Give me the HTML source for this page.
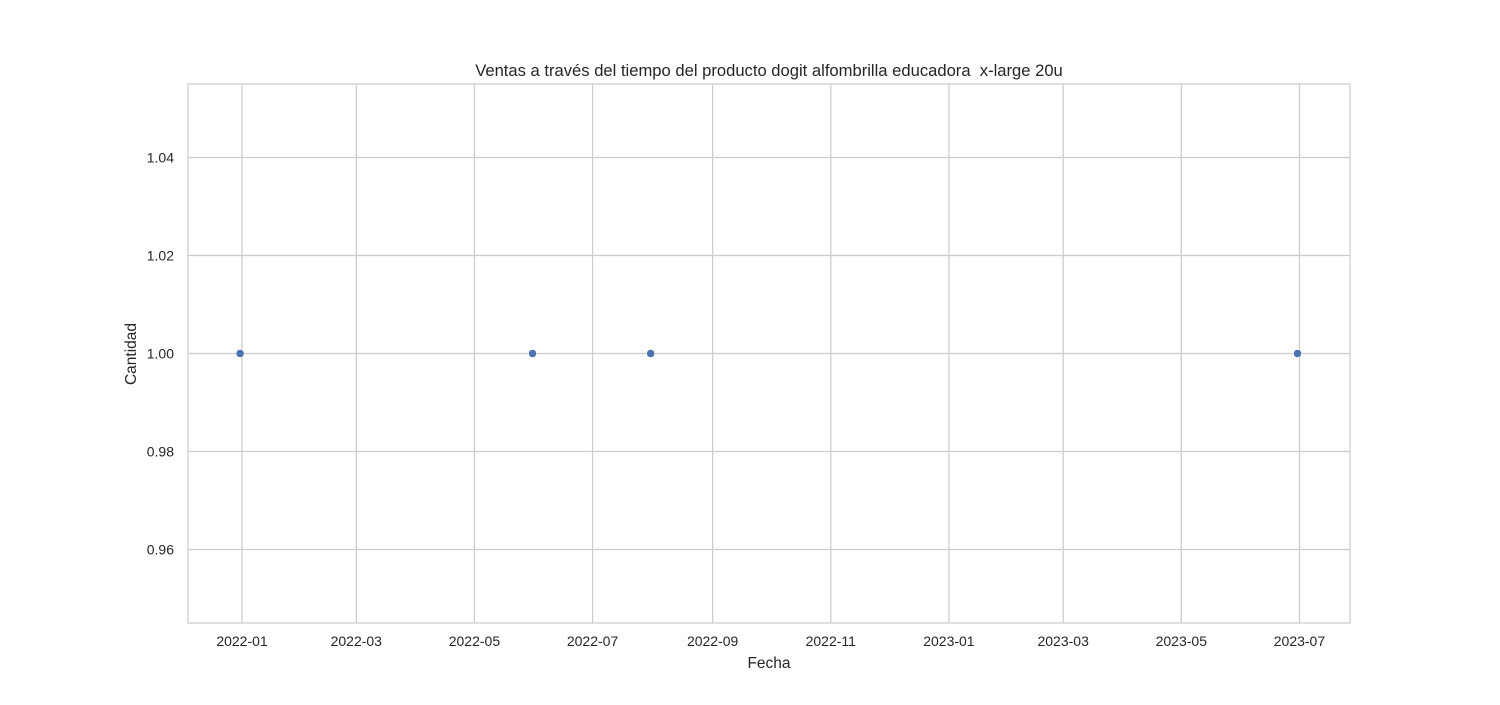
<!DOCTYPE html>
<html><head><meta charset="utf-8"><style>
body{margin:0;background:#fff;font-family:"Liberation Sans",sans-serif;}
svg text{font-family:"Liberation Sans",sans-serif;fill:#262626;white-space:pre;}
</style></head><body>
<svg id="chart" width="1500" height="700">
<rect width="1500" height="700" fill="#fff"/>
<text x="769" y="76" font-size="16.6" text-anchor="middle" xml:space="preserve">Ventas a través del tiempo del producto dogit alfombrilla educadora  x-large 20u</text>
<g id="grid"></g>
<g id="ticks"></g>
<rect x="188" y="84" width="1162" height="539" fill="none" stroke="#ccc" stroke-width="1.25"/>
<g id="points"></g>
<text x="769" y="668" font-size="15.5" text-anchor="middle">Fecha</text>
<text x="136" y="354" font-size="15.5" text-anchor="middle" transform="rotate(-90 136 354)">Cantidad</text>
</svg>
<script>
const dates = ["2021-12-31","2022-05-31","2022-07-31","2023-06-30"];
const quantities = [1,1,1,1];
const xTickLabels = ["2022-01","2022-03","2022-05","2022-07","2022-09","2022-11","2023-01","2023-03","2023-05","2023-07"];
const yTicks = [0.96,0.98,1.00,1.02,1.04];

const L=188,R=1350,T=84,B=623;
const DAY=86400000;
const ref=Date.UTC(2022,0,1);
const xMin=ref-27.9*DAY, xMax=ref+572.1*DAY;
const yMin=0.945, yMax=1.055;
function parse(s){const p=s.split("-").map(Number);return Date.UTC(p[0],p[1]-1,p[2]||1);}
function xs(t){return L+(t-xMin)/(xMax-xMin)*(R-L);}
function ys(v){return B-(v-yMin)/(yMax-yMin)*(B-T);}
const NS="http://www.w3.org/2000/svg";
const grid=document.getElementById("grid"),ticks=document.getElementById("ticks"),pts=document.getElementById("points");
function mk(tag,attrs){const e=document.createElementNS(NS,tag);for(const k in attrs)e.setAttribute(k,attrs[k]);return e;}
xTickLabels.forEach(lbl=>{
  const x=xs(parse(lbl));
  const ln=mk("line",{x1:x,x2:x,y1:T,y2:B,stroke:"#ccc","stroke-width":1.25});
  
  
  grid.appendChild(ln);
  const t=mk("text",{x:x,y:646,"font-size":14,"text-anchor":"middle"});
  t.textContent=lbl;
  
  
  ticks.appendChild(t);
});
yTicks.forEach(v=>{
  const y=ys(v);
  const ln=mk("line",{x1:L,x2:R,y1:y,y2:y,stroke:"#ccc","stroke-width":1.25});
  
  
  grid.appendChild(ln);
  const t=mk("text",{x:174,y:y+5,"font-size":14,"text-anchor":"end"});
  t.textContent=v.toFixed(2);
  
  
  ticks.appendChild(t);
});
dates.forEach((d,i)=>{
  const c=mk("circle",{cx:xs(parse(d)),cy:ys(quantities[i]),r:4,fill:"#4c72b0",stroke:"#fff","stroke-width":0.5});
  
  
  pts.appendChild(c);
});
</script>
</body></html>
